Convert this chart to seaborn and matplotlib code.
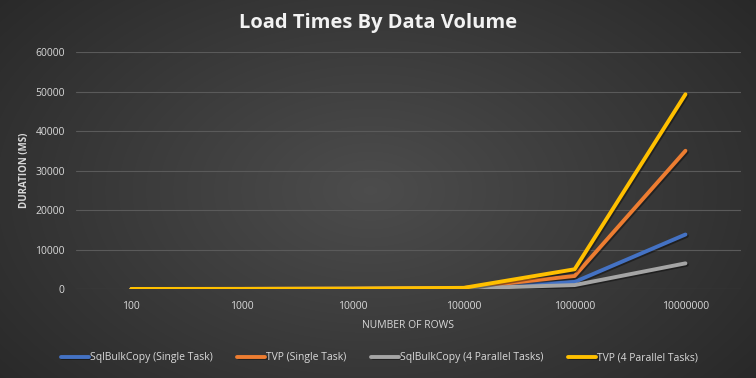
import seaborn as sns
import pandas as pd
import numpy as np
import matplotlib
import matplotlib.pyplot as plt
import matplotlib.patheffects as pe
matplotlib.use('Agg')

rows = ["100", "1000", "10000", "100000", "1000000", "10000000"]
series = ["SqlBulkCopy (Single Task)", "TVP (Single Task)",
          "SqlBulkCopy (4 Parallel Tasks)", "TVP (4 Parallel Tasks)"]
bulk_single = [10, 25, 60, 200, 1800, 13800]
tvp_single = [15, 30, 90, 250, 3300, 35000]
bulk_parallel = [10, 20, 50, 150, 1000, 6500]
tvp_parallel = [20, 35, 100, 300, 5000, 49300]
colors = ["#4472C4", "#ED7D31", "#A5A5A5", "#FFC000"]

records = []
for name, vals in zip(series, [bulk_single, tvp_single, bulk_parallel, tvp_parallel]):
    for i, v in enumerate(vals):
        records.append({"series": name, "pos": i, "rows": rows[i], "ms": v})
df = pd.DataFrame(records)

sns.set_style("dark")
plt.rcParams['font.family'] = ['Open Sans', 'DejaVu Sans']
txt = "#d9d9d9"

fig = plt.figure(figsize=(7.56, 3.78), dpi=100)

# radial gradient background
bg = fig.add_axes([0, 0, 1, 1], zorder=-10)
yy, xx = np.mgrid[0:378, 0:756]
d = np.sqrt(((xx - 370) / 520.0) ** 2 + ((yy - 190) / 330.0) ** 2)
d = np.clip(d, 0, 1)
shade = 0.30 - 0.15 * d
img = np.dstack([shade, shade, shade])
bg.imshow(img, aspect='auto', extent=[0, 1, 0, 1])
bg.axis("off")

ax = fig.add_axes([0.1005, 0.2354, 0.8795, 0.627])
ax.set_facecolor("none")
sns.lineplot(data=df, x="pos", y="ms", hue="series", palette=colors,
             hue_order=series, linewidth=2.8, ax=ax, legend=True)
for ln in ax.get_lines():
    ln.set_solid_capstyle("round")
    ln.set_path_effects([pe.SimpleLineShadow(offset=(1, -1), alpha=0.4), pe.Normal()])

ax.set_xlim(-0.5, 5.5)
ax.set_ylim(0, 60000)
ax.set_yticks(range(0, 60001, 10000))
ax.set_xticks(range(len(rows)))
ax.set_xticklabels(rows)
ax.tick_params(axis='both', colors=txt, labelsize=7.5, length=0, pad=8)
ax.tick_params(axis='x', pad=8.5)
ax.grid(axis='y', color="#5a5a5a", linewidth=0.8)
ax.grid(axis='x', visible=False)
for s in ax.spines.values():
    s.set_visible(False)
ax.set_xlabel("NUMBER OF ROWS", color=txt, fontsize=7.5, labelpad=6)
ax.set_ylabel("DURATION (MS)", color=txt, fontsize=7, fontweight='bold', labelpad=4)

fig.text(0.5, 0.94, "Load Times By Data Volume", ha='center', va='center',
         color="#f2f2f2", fontsize=14.5, fontweight='bold')

handles, labels = ax.get_legend_handles_labels()
ax.legend(handles=handles, labels=labels, loc='center', bbox_to_anchor=(0.502, 0.053),
          bbox_transform=fig.transFigure, ncol=4, frameon=False, fontsize=7.5,
          labelcolor=txt, handlelength=2.7, handletextpad=0.1, columnspacing=2.35)

fig.savefig("out.png", dpi=100)
